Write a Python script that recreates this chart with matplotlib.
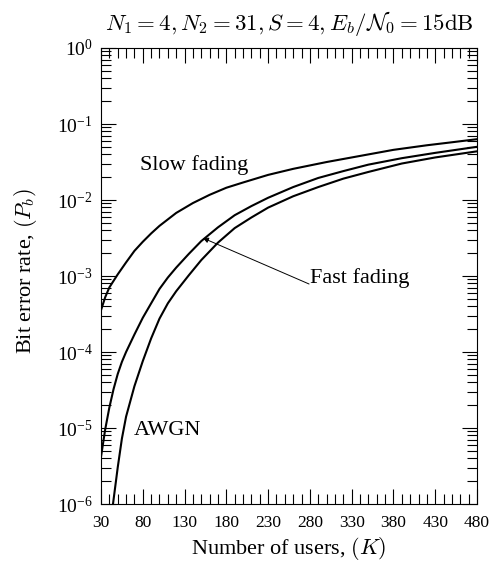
import matplotlib
matplotlib.use("Agg")
import matplotlib.pyplot as plt
from matplotlib.ticker import MultipleLocator, FixedLocator, NullFormatter

plt.rcParams["font.family"] = "Liberation Serif"
plt.rcParams["mathtext.fontset"] = "cm"

# number of users K and bit error rate
K_slow = [30, 35, 40, 50, 60, 70, 80, 90, 100, 120, 140, 160, 180, 200, 230, 260,
          300, 340, 380, 420, 450, 480]
ber_slow = [3.55e-4, 5.25e-4, 7.08e-4, 1.05e-3, 1.51e-3, 2.14e-3, 2.82e-3, 3.63e-3,
            4.57e-3, 6.76e-3, 9.12e-3, 1.17e-2, 1.45e-2, 1.70e-2, 2.14e-2, 2.57e-2,
            3.16e-2, 3.80e-2, 4.57e-2, 5.25e-2, 5.75e-2, 6.31e-2]

K_fast = [30, 35, 40, 45, 50, 55, 60, 70, 80, 90, 100, 110, 120, 135, 150, 170, 190,
          210, 230, 260, 290, 320, 350, 390, 430, 480]
ber_fast = [4.17e-6, 9.55e-6, 1.86e-5, 3.24e-5, 5.13e-5, 7.41e-5, 1.0e-4, 1.70e-4,
            2.82e-4, 4.37e-4, 6.76e-4, 9.55e-4, 1.29e-3, 1.95e-3, 2.88e-3, 4.37e-3,
            6.31e-3, 8.32e-3, 1.07e-2, 1.48e-2, 1.95e-2, 2.40e-2, 2.92e-2, 3.55e-2,
            4.17e-2, 5.01e-2]

K_awgn = [40, 44, 50, 55, 60, 70, 80, 90, 100, 110, 120, 135, 150, 170, 190, 210, 230,
          260, 290, 320, 350, 390, 430, 480]
ber_awgn = [3.98e-7, 9.33e-7, 3.02e-6, 7.24e-6, 1.41e-5, 3.55e-5, 7.59e-5, 1.51e-4,
            2.75e-4, 4.37e-4, 6.31e-4, 1.02e-3, 1.62e-3, 2.75e-3, 4.27e-3, 5.89e-3,
            7.94e-3, 1.12e-2, 1.48e-2, 1.91e-2, 2.34e-2, 3.02e-2, 3.63e-2, 4.37e-2]

xticks = [30, 80, 130, 180, 230, 280, 330, 380, 430, 480]
yticks = [1e-6, 1e-5, 1e-4, 1e-3, 1e-2, 1e-1, 1e0]

fig = plt.figure(figsize=(5.0, 5.66), dpi=100)
ax = fig.add_axes([0.202, 0.1095, 0.752, 0.8057])

ax.semilogy(K_slow, ber_slow, "k-", lw=1.5)
ax.semilogy(K_fast, ber_fast, "k-", lw=1.5)
ax.semilogy(K_awgn, ber_awgn, "k-", lw=1.5)

ax.set_xlim(30, 480)
ax.set_ylim(1e-6, 1)
ax.set_xticks(xticks)
ax.xaxis.set_minor_locator(MultipleLocator(10))
ax.set_yticks(yticks)
ax.yaxis.set_minor_locator(FixedLocator([m * d for d in yticks[:-1] for m in range(2, 10)]))
ax.yaxis.set_minor_formatter(NullFormatter())
ax.tick_params(which="both", direction="in", top=True, right=True)
ax.tick_params(which="major", length=11, width=0.8)
ax.tick_params(which="minor", length=7, width=0.8)
ax.tick_params(axis="x", which="major", labelsize=12.5, pad=8)
ax.tick_params(axis="y", which="major", labelsize=14, pad=6)

ax.text(142, 2.9e-2, "Slow fading", fontsize=16, ha="center", va="center")
ax.text(280, 9.3e-4, "Fast fading", fontsize=16, ha="left", va="center")
ax.text(109, 9.3e-6, "AWGN", fontsize=16, ha="center", va="center")
ax.annotate("", xy=(152, 3.16e-3), xytext=(279, 7.85e-4),
            arrowprops=dict(arrowstyle="-|>", color="k", lw=0.7,
                            mutation_scale=8, shrinkA=0, shrinkB=0))

ax.set_xlabel("Number of users, $(K)$", fontsize=16)
ax.set_ylabel("Bit error rate, $(P_b)$", fontsize=16)
ax.xaxis.set_label_coords(0.5, -0.068)
ax.yaxis.set_label_coords(-0.166, 0.51)
ax.set_title(r"$N_1 = 4, N_2 = 31, S = 4, E_b/\mathcal{N}_0 = 15\mathrm{dB}$",
             fontsize=16.5, pad=13)

fig.savefig("out.png", dpi=100)
